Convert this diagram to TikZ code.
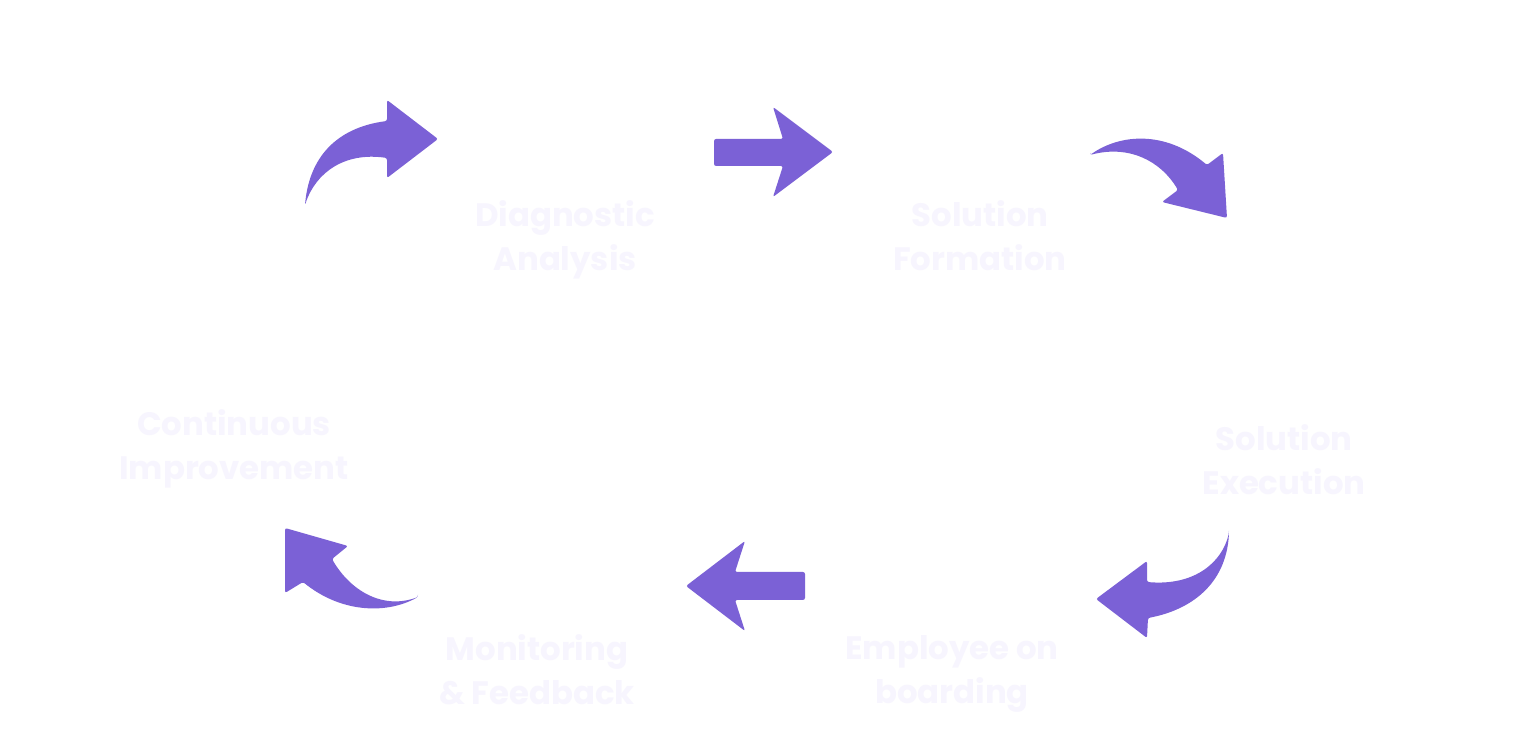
\documentclass[tikz,border=0pt]{standalone}
\usepackage{fontspec}
\setmainfont{Poppins}
\usepackage{xcolor}
\usepackage{tikz}
\usetikzlibrary{positioning}

\definecolor{flowpurple}{RGB}{123,97,214}
\definecolor{faintlilac}{RGB}{247,245,254}

\begin{document}
\begin{tikzpicture}[
    x=0.01cm, y=-0.01cm,
    step label/.style={text=faintlilac, font=\bfseries\fontsize{9.2}{12.6}\selectfont, align=center, inner sep=0pt},
    flow/.style={fill=flowpurple, draw=none, rounded corners=0.6pt}
]
% Canvas
\fill[white] (0,0) rectangle (1520,740);
\useasboundingbox (0,0) rectangle (1520,740);

% Step labels
\node[step label] (diag) at (565,240) {Diagnostic\\Analysis};
\node[step label] (form) at (980,236) {Solution\\Formation};
\node[step label] (exec) at (1284,460) {Solution\\Execution};
\node[step label] (onb) at (952,674) {Employee on\\boarding};
\node[step label] (mon) at (537,670) {Monitoring\\\& Feedback};
\node[step label] (cont) at (234,449) {Continuous\\Improvement};

% Curved arrow, top left
\fill[flow] (305,205) .. controls (310,152) and (342,127) .. (387,121)
    -- (387,100) -- (438,139) -- (387,178) -- (387,158)
    .. controls (345,152) and (316,172) .. (305,205) -- cycle;

% Straight arrow, top
\fill[flow] (714,139) -- (783,139) -- (773,107) -- (833,152) -- (773,197)
    -- (783,166) -- (714,166) -- cycle;

% Curved arrow, top right
\fill[flow] (1090,155) .. controls (1120,134) and (1165,130) .. (1207,165)
    -- (1223,153) -- (1227,218) -- (1162,202) -- (1178,190)
    .. controls (1160,160) and (1128,145) .. (1090,155) -- cycle;

% Curved arrow, bottom right
\fill[flow] (1229,533) .. controls (1226,585) and (1190,610) .. (1148,618)
    -- (1147,638) -- (1096,599) -- (1147,561) -- (1147,582)
    .. controls (1195,586) and (1222,562) .. (1229,533) -- cycle;

% Straight arrow, bottom
\fill[flow] (805,572) -- (735,572) -- (745,541) -- (686,586) -- (745,631)
    -- (735,600) -- (805,600) -- cycle;

% Curved arrow, bottom left
\fill[flow] (418,597) .. controls (385,615) and (340,612) .. (303,582)
    -- (285,593) -- (285,528) -- (348,546) -- (332,559)
    .. controls (350,590) and (382,610) .. (418,597) -- cycle;

\end{tikzpicture}
\end{document}
